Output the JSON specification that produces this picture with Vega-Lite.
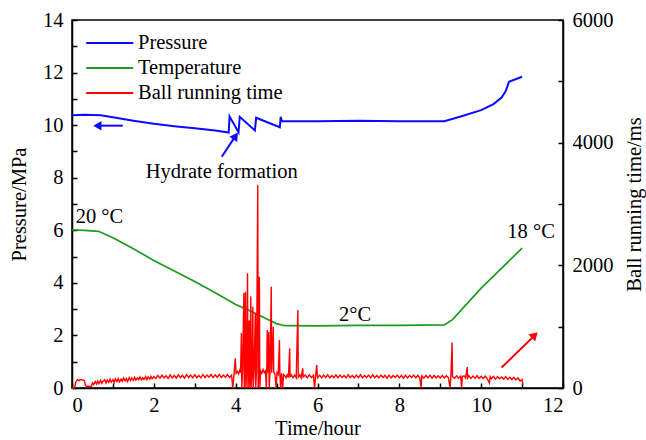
{
  "$schema": "https://vega.github.io/schema/vega-lite/v6.json",
  "width": 491,
  "height": 368,
  "autosize": {"type": "none"},
  "padding": {"left": 72, "top": 20, "right": 83, "bottom": 52},
  "background": "white",
  "config": {
    "font": "Liberation Serif",
    "view": {"stroke": "black", "strokeWidth": 1.5},
    "axis": {
      "grid": false,
      "domainColor": "black",
      "tickColor": "black",
      "labelColor": "black",
      "titleColor": "black",
      "labelFont": "Liberation Serif",
      "titleFont": "Liberation Serif",
      "labelFontSize": 20.5,
      "titleFontSize": 20.5,
      "titleFontWeight": "normal",
      "tickSize": -5,
      "labelPadding": 14,
      "domainWidth": 1.5,
      "tickWidth": 1.5
    },
    "legend": {
      "orient": "none",
      "legendX": 13,
      "legendY": 12,
      "symbolType": "M-1,0H3.8",
      "symbolSize": 384,
      "symbolStrokeWidth": 2,
      "labelFont": "Liberation Serif",
      "labelFontSize": 20.5,
      "labelColor": "black",
      "rowPadding": 3,
      "labelOffset": 31,
      "padding": 0
    }
  },
  "datasets": {
    "pressure": [
      {"t": 0, "v": 10.38, "series": "Pressure"},
      {"t": 0.3, "v": 10.4, "series": "Pressure"},
      {"t": 0.7, "v": 10.38, "series": "Pressure"},
      {"t": 1.0, "v": 10.3, "series": "Pressure"},
      {"t": 1.5, "v": 10.17, "series": "Pressure"},
      {"t": 2.0, "v": 10.05, "series": "Pressure"},
      {"t": 2.5, "v": 9.96, "series": "Pressure"},
      {"t": 3.0, "v": 9.88, "series": "Pressure"},
      {"t": 3.5, "v": 9.8, "series": "Pressure"},
      {"t": 3.83, "v": 9.72, "series": "Pressure"},
      {"t": 3.85, "v": 10.33, "series": "Pressure"},
      {"t": 4.07, "v": 9.73, "series": "Pressure"},
      {"t": 4.1, "v": 10.32, "series": "Pressure"},
      {"t": 4.47, "v": 9.8, "series": "Pressure"},
      {"t": 4.5, "v": 10.28, "series": "Pressure"},
      {"t": 5.08, "v": 9.92, "series": "Pressure"},
      {"t": 5.1, "v": 10.32, "series": "Pressure"},
      {"t": 5.13, "v": 10.15, "series": "Pressure"},
      {"t": 6.0, "v": 10.15, "series": "Pressure"},
      {"t": 7.0, "v": 10.17, "series": "Pressure"},
      {"t": 8.0, "v": 10.15, "series": "Pressure"},
      {"t": 9.1, "v": 10.15, "series": "Pressure"},
      {"t": 9.5, "v": 10.33, "series": "Pressure"},
      {"t": 10.0, "v": 10.57, "series": "Pressure"},
      {"t": 10.3, "v": 10.8, "series": "Pressure"},
      {"t": 10.5, "v": 11.05, "series": "Pressure"},
      {"t": 10.6, "v": 11.3, "series": "Pressure"},
      {"t": 10.68, "v": 11.65, "series": "Pressure"},
      {"t": 11.0, "v": 11.84, "series": "Pressure"}
    ],
    "temperature": [
      {"t": 0, "v": 6.02, "series": "Temperature"},
      {"t": 0.3, "v": 6.0, "series": "Temperature"},
      {"t": 0.65, "v": 5.96, "series": "Temperature"},
      {"t": 1.0, "v": 5.72, "series": "Temperature"},
      {"t": 1.5, "v": 5.3, "series": "Temperature"},
      {"t": 2.0, "v": 4.85, "series": "Temperature"},
      {"t": 2.5, "v": 4.45, "series": "Temperature"},
      {"t": 3.0, "v": 4.05, "series": "Temperature"},
      {"t": 3.5, "v": 3.62, "series": "Temperature"},
      {"t": 4.0, "v": 3.18, "series": "Temperature"},
      {"t": 4.4, "v": 2.9, "series": "Temperature"},
      {"t": 4.8, "v": 2.6, "series": "Temperature"},
      {"t": 5.0, "v": 2.45, "series": "Temperature"},
      {"t": 5.2, "v": 2.37, "series": "Temperature"},
      {"t": 6.0, "v": 2.36, "series": "Temperature"},
      {"t": 7.0, "v": 2.38, "series": "Temperature"},
      {"t": 8.0, "v": 2.38, "series": "Temperature"},
      {"t": 9.1, "v": 2.4, "series": "Temperature"},
      {"t": 9.3, "v": 2.6, "series": "Temperature"},
      {"t": 10.0, "v": 3.8, "series": "Temperature"},
      {"t": 11.0, "v": 5.32, "series": "Temperature"}
    ],
    "ball": [
      {"t": 0.0, "ms": 0}, {"t": 0.06, "ms": 0}, {"t": 0.09, "ms": 90}, {"t": 0.13, "ms": 135},
      {"t": 0.17, "ms": 120}, {"t": 0.21, "ms": 140}, {"t": 0.26, "ms": 130}, {"t": 0.3, "ms": 125},
      {"t": 0.33, "ms": 40}, {"t": 0.37, "ms": 25}, {"t": 0.42, "ms": 30}, {"t": 0.47, "ms": 20},
      {"t": 0.5, "ms": 85}, {"t": 0.53, "ms": 55}, {"t": 0.57, "ms": 105}, {"t": 0.6, "ms": 65},
      {"t": 0.63, "ms": 115}, {"t": 0.66, "ms": 70}, {"t": 0.7, "ms": 125}, {"t": 0.73, "ms": 75},
      {"t": 0.76, "ms": 110}, {"t": 0.8, "ms": 135}, {"t": 0.83, "ms": 80}, {"t": 0.86, "ms": 130},
      {"t": 0.9, "ms": 90}, {"t": 0.93, "ms": 145}, {"t": 0.96, "ms": 95}, {"t": 1.0, "ms": 135},
      {"t": 1.03, "ms": 90}, {"t": 1.06, "ms": 150}, {"t": 1.1, "ms": 105}, {"t": 1.13, "ms": 155},
      {"t": 1.16, "ms": 100}, {"t": 1.2, "ms": 145}, {"t": 1.23, "ms": 110}, {"t": 1.26, "ms": 165},
      {"t": 1.3, "ms": 115}, {"t": 1.33, "ms": 155}, {"t": 1.36, "ms": 105}, {"t": 1.4, "ms": 170},
      {"t": 1.43, "ms": 120}, {"t": 1.46, "ms": 160}, {"t": 1.5, "ms": 125}, {"t": 1.53, "ms": 175},
      {"t": 1.56, "ms": 130}, {"t": 1.6, "ms": 165}, {"t": 1.63, "ms": 135}, {"t": 1.66, "ms": 180},
      {"t": 1.7, "ms": 130}, {"t": 1.73, "ms": 170}, {"t": 1.76, "ms": 140}, {"t": 1.8, "ms": 185},
      {"t": 1.83, "ms": 135}, {"t": 1.86, "ms": 180}, {"t": 1.9, "ms": 145}, {"t": 1.93, "ms": 190},
      {"t": 1.96, "ms": 150}, {"t": 2.0, "ms": 185}, {"t": 2.05, "ms": 155}, {"t": 2.1, "ms": 205},
      {"t": 2.15, "ms": 160}, {"t": 2.2, "ms": 210}, {"t": 2.25, "ms": 165}, {"t": 2.3, "ms": 200},
      {"t": 2.35, "ms": 155}, {"t": 2.4, "ms": 215}, {"t": 2.45, "ms": 165}, {"t": 2.5, "ms": 205},
      {"t": 2.55, "ms": 160}, {"t": 2.6, "ms": 215}, {"t": 2.65, "ms": 170}, {"t": 2.7, "ms": 205},
      {"t": 2.75, "ms": 160}, {"t": 2.8, "ms": 220}, {"t": 2.85, "ms": 170}, {"t": 2.9, "ms": 210},
      {"t": 2.95, "ms": 165}, {"t": 3.0, "ms": 215}, {"t": 3.05, "ms": 170}, {"t": 3.1, "ms": 205},
      {"t": 3.15, "ms": 165}, {"t": 3.2, "ms": 220}, {"t": 3.25, "ms": 170}, {"t": 3.3, "ms": 210},
      {"t": 3.35, "ms": 175}, {"t": 3.4, "ms": 220}, {"t": 3.45, "ms": 170}, {"t": 3.5, "ms": 215},
      {"t": 3.55, "ms": 175}, {"t": 3.6, "ms": 220}, {"t": 3.65, "ms": 170}, {"t": 3.7, "ms": 210},
      {"t": 3.75, "ms": 175}, {"t": 3.8, "ms": 220}, {"t": 3.85, "ms": 170}, {"t": 3.9, "ms": 210},
      {"t": 3.93, "ms": 0}, {"t": 3.96, "ms": 230}, {"t": 3.99, "ms": 484}, {"t": 4.01, "ms": 240},
      {"t": 4.04, "ms": 270}, {"t": 4.07, "ms": 230}, {"t": 4.1, "ms": 290}, {"t": 4.12, "ms": 250},
      {"t": 4.14, "ms": 897}, {"t": 4.15, "ms": 0}, {"t": 4.17, "ms": 300}, {"t": 4.2, "ms": 1549},
      {"t": 4.21, "ms": 0}, {"t": 4.22, "ms": 260}, {"t": 4.24, "ms": 1570}, {"t": 4.25, "ms": 0},
      {"t": 4.27, "ms": 320}, {"t": 4.29, "ms": 1870}, {"t": 4.3, "ms": 0}, {"t": 4.31, "ms": 280},
      {"t": 4.33, "ms": 1100}, {"t": 4.34, "ms": 0}, {"t": 4.35, "ms": 300}, {"t": 4.37, "ms": 1490},
      {"t": 4.38, "ms": 0}, {"t": 4.4, "ms": 260}, {"t": 4.42, "ms": 1326}, {"t": 4.43, "ms": 0},
      {"t": 4.45, "ms": 280}, {"t": 4.48, "ms": 1223}, {"t": 4.49, "ms": 0}, {"t": 4.51, "ms": 300},
      {"t": 4.54, "ms": 3310}, {"t": 4.55, "ms": 0}, {"t": 4.56, "ms": 260}, {"t": 4.58, "ms": 1815},
      {"t": 4.59, "ms": 0}, {"t": 4.61, "ms": 280}, {"t": 4.64, "ms": 240}, {"t": 4.67, "ms": 300},
      {"t": 4.7, "ms": 250}, {"t": 4.73, "ms": 280}, {"t": 4.75, "ms": 0}, {"t": 4.76, "ms": 260},
      {"t": 4.77, "ms": 946}, {"t": 4.78, "ms": 250}, {"t": 4.81, "ms": 918}, {"t": 4.82, "ms": 0},
      {"t": 4.84, "ms": 280}, {"t": 4.87, "ms": 1651}, {"t": 4.88, "ms": 250}, {"t": 4.92, "ms": 1000},
      {"t": 4.93, "ms": 260}, {"t": 4.96, "ms": 230}, {"t": 4.99, "ms": 0}, {"t": 5.01, "ms": 250},
      {"t": 5.04, "ms": 220}, {"t": 5.07, "ms": 783}, {"t": 5.08, "ms": 230}, {"t": 5.1, "ms": 0},
      {"t": 5.12, "ms": 240}, {"t": 5.15, "ms": 0}, {"t": 5.17, "ms": 220}, {"t": 5.2, "ms": 200},
      {"t": 5.23, "ms": 165}, {"t": 5.26, "ms": 215}, {"t": 5.29, "ms": 170}, {"t": 5.32, "ms": 647},
      {"t": 5.33, "ms": 175}, {"t": 5.36, "ms": 215}, {"t": 5.4, "ms": 170}, {"t": 5.44, "ms": 210},
      {"t": 5.48, "ms": 165}, {"t": 5.52, "ms": 1272}, {"t": 5.53, "ms": 175}, {"t": 5.57, "ms": 215},
      {"t": 5.6, "ms": 165}, {"t": 5.64, "ms": 321}, {"t": 5.65, "ms": 180}, {"t": 5.7, "ms": 210},
      {"t": 5.75, "ms": 165}, {"t": 5.8, "ms": 215}, {"t": 5.85, "ms": 170}, {"t": 5.9, "ms": 205},
      {"t": 5.93, "ms": 0}, {"t": 5.95, "ms": 175}, {"t": 5.98, "ms": 375}, {"t": 6.0, "ms": 165},
      {"t": 6.05, "ms": 210}, {"t": 6.1, "ms": 165}, {"t": 6.15, "ms": 210}, {"t": 6.2, "ms": 170},
      {"t": 6.25, "ms": 215}, {"t": 6.3, "ms": 165}, {"t": 6.35, "ms": 205}, {"t": 6.4, "ms": 170},
      {"t": 6.45, "ms": 215}, {"t": 6.5, "ms": 165}, {"t": 6.55, "ms": 210}, {"t": 6.6, "ms": 170},
      {"t": 6.65, "ms": 205}, {"t": 6.7, "ms": 165}, {"t": 6.75, "ms": 215}, {"t": 6.8, "ms": 170},
      {"t": 6.85, "ms": 205}, {"t": 6.9, "ms": 165}, {"t": 6.95, "ms": 210}, {"t": 7.0, "ms": 170},
      {"t": 7.05, "ms": 215}, {"t": 7.1, "ms": 165}, {"t": 7.15, "ms": 205}, {"t": 7.2, "ms": 170},
      {"t": 7.25, "ms": 210}, {"t": 7.3, "ms": 165}, {"t": 7.35, "ms": 215}, {"t": 7.4, "ms": 170},
      {"t": 7.45, "ms": 205}, {"t": 7.5, "ms": 165}, {"t": 7.55, "ms": 210}, {"t": 7.6, "ms": 170},
      {"t": 7.65, "ms": 205}, {"t": 7.7, "ms": 160}, {"t": 7.75, "ms": 210}, {"t": 7.8, "ms": 165},
      {"t": 7.85, "ms": 205}, {"t": 7.9, "ms": 170}, {"t": 7.95, "ms": 210}, {"t": 8.0, "ms": 165},
      {"t": 8.05, "ms": 205}, {"t": 8.1, "ms": 160}, {"t": 8.15, "ms": 210}, {"t": 8.2, "ms": 165},
      {"t": 8.25, "ms": 205}, {"t": 8.3, "ms": 170}, {"t": 8.35, "ms": 210}, {"t": 8.4, "ms": 165},
      {"t": 8.45, "ms": 205}, {"t": 8.5, "ms": 165}, {"t": 8.53, "ms": 0}, {"t": 8.55, "ms": 200},
      {"t": 8.6, "ms": 160}, {"t": 8.65, "ms": 205}, {"t": 8.7, "ms": 165}, {"t": 8.75, "ms": 210},
      {"t": 8.8, "ms": 160}, {"t": 8.85, "ms": 205}, {"t": 8.9, "ms": 165}, {"t": 8.95, "ms": 200},
      {"t": 9.0, "ms": 160}, {"t": 9.05, "ms": 205}, {"t": 9.1, "ms": 165}, {"t": 9.15, "ms": 200},
      {"t": 9.2, "ms": 165}, {"t": 9.24, "ms": 0}, {"t": 9.26, "ms": 190}, {"t": 9.29, "ms": 740},
      {"t": 9.3, "ms": 185}, {"t": 9.35, "ms": 160}, {"t": 9.4, "ms": 200}, {"t": 9.45, "ms": 160},
      {"t": 9.5, "ms": 195}, {"t": 9.52, "ms": 0}, {"t": 9.54, "ms": 180}, {"t": 9.58, "ms": 200},
      {"t": 9.62, "ms": 160}, {"t": 9.66, "ms": 342}, {"t": 9.67, "ms": 165}, {"t": 9.7, "ms": 200},
      {"t": 9.75, "ms": 155}, {"t": 9.8, "ms": 195}, {"t": 9.85, "ms": 160}, {"t": 9.9, "ms": 200},
      {"t": 9.95, "ms": 155}, {"t": 10.0, "ms": 190}, {"t": 10.05, "ms": 155}, {"t": 10.1, "ms": 195},
      {"t": 10.15, "ms": 150}, {"t": 10.2, "ms": 80}, {"t": 10.22, "ms": 185}, {"t": 10.25, "ms": 150},
      {"t": 10.3, "ms": 190}, {"t": 10.35, "ms": 145}, {"t": 10.4, "ms": 185}, {"t": 10.45, "ms": 150},
      {"t": 10.5, "ms": 180}, {"t": 10.55, "ms": 145}, {"t": 10.6, "ms": 185}, {"t": 10.65, "ms": 140},
      {"t": 10.7, "ms": 175}, {"t": 10.75, "ms": 135}, {"t": 10.8, "ms": 175}, {"t": 10.85, "ms": 130},
      {"t": 10.9, "ms": 165}, {"t": 10.95, "ms": 115}, {"t": 11.0, "ms": 140}, {"t": 11.02, "ms": 50}
    ],
    "arrowLines": [
      {"id": "p", "t": 0.7, "v": 9.98},
      {"id": "p", "t": 1.24, "v": 9.98},
      {"id": "h", "t": 3.66, "v": 8.8},
      {"id": "h", "t": 3.998, "v": 9.59},
      {"id": "r", "t": 10.5, "v": 0.78},
      {"id": "r", "t": 11.31, "v": 2.01}
    ],
    "arrowHeads": [
      {"id": "p", "t": 0.62, "v": 9.98},
      {"id": "h", "t": 3.998, "v": 9.59},
      {"id": "r", "t": 11.31, "v": 2.01}
    ],
    "notes": [
      {"t": 3.66, "v": 8.22, "label": "Hydrate formation"},
      {"t": 0.67, "v": 6.5, "label": "20 °C"},
      {"t": 6.92, "v": 2.78, "label": "2°C"},
      {"t": 11.22, "v": 5.93, "label": "18 °C"}
    ]
  },
  "encoding": {
    "x": {
      "field": "t",
      "type": "quantitative",
      "scale": {"domain": [0, 12], "nice": false, "zero": false},
      "axis": {
        "title": "Time/hour",
        "values": [0, 1, 2, 3, 4, 5, 6, 7, 8, 9, 10, 11, 12],
        "labelExpr": "datum.value % 2 == 0 ? datum.label : ''",
        "labelPadding": 12,
        "titlePadding": 3
      }
    }
  },
  "layer": [
    {
      "encoding": {
        "y": {
          "field": "v",
          "type": "quantitative",
          "scale": {"domain": [0, 14], "nice": false},
          "axis": {
            "title": "Pressure/MPa",
            "values": [0, 1, 2, 3, 4, 5, 6, 7, 8, 9, 10, 11, 12, 13, 14],
            "labelExpr": "datum.value % 2 == 0 ? datum.label : ''",
            "titlePadding": 13
          }
        }
      },
      "layer": [
        {
          "data": {"name": "pressure"},
          "mark": {"type": "line", "strokeWidth": 2},
          "encoding": {
            "color": {
              "field": "series",
              "type": "nominal",
              "scale": {"domain": ["Pressure", "Temperature", "Ball running time"], "range": ["#0a0aff", "#1c9c1c", "#ff0000"]},
              "legend": {"title": null}
            }
          }
        },
        {
          "data": {"name": "temperature"},
          "mark": {"type": "line", "strokeWidth": 1.7},
          "encoding": {
            "color": {"field": "series", "type": "nominal"}
          }
        },
        {
          "data": {"name": "arrowLines"},
          "transform": [{"filter": "datum.id != 'r'"}],
          "mark": {"type": "line", "color": "#0a0aff", "strokeWidth": 2},
          "encoding": {"detail": {"field": "id"}}
        },
        {
          "data": {"name": "arrowLines"},
          "transform": [{"filter": "datum.id == 'r'"}],
          "mark": {"type": "line", "color": "#ff0000", "strokeWidth": 2},
          "encoding": {}
        },
        {
          "data": {"name": "arrowHeads"},
          "transform": [{"filter": "datum.id == 'p'"}],
          "mark": {"type": "point", "shape": "triangle-left", "filled": true, "opacity": 1, "size": 90, "color": "#0a0aff"}
        },
        {
          "data": {"name": "arrowHeads"},
          "transform": [{"filter": "datum.id == 'h'"}],
          "mark": {"type": "point", "shape": "triangle-up", "filled": true, "opacity": 1, "size": 90, "angle": 34, "color": "#0a0aff"}
        },
        {
          "data": {"name": "arrowHeads"},
          "transform": [{"filter": "datum.id == 'r'"}],
          "mark": {"type": "point", "shape": "triangle-up", "filled": true, "opacity": 1, "size": 90, "angle": 46, "color": "#ff0000"}
        },
        {
          "data": {"name": "notes"},
          "mark": {"type": "text", "font": "Liberation Serif", "fontSize": 20.5, "color": "black", "align": "center", "baseline": "middle"},
          "encoding": {"text": {"field": "label"}}
        }
      ]
    },
    {
      "data": {"name": "ball"},
      "transform": [{"calculate": "'Ball running time'", "as": "series"}],
      "mark": {"type": "line", "strokeWidth": 1.4},
      "encoding": {
        "y": {
          "field": "ms",
          "type": "quantitative",
          "scale": {"domain": [0, 6000], "nice": false},
          "axis": {
            "orient": "right",
            "title": "Ball running time/ms",
            "titleAngle": 270,
            "format": "d",
            "values": [0, 1000, 2000, 3000, 4000, 5000, 6000],
            "labelExpr": "datum.value % 2000 == 0 ? datum.label : ''",
            "titlePadding": 31
          }
        },
        "color": {"field": "series", "type": "nominal"}
      }
    }
  ],
  "resolve": {"scale": {"y": "independent"}, "axis": {"y": "independent"}}
}
